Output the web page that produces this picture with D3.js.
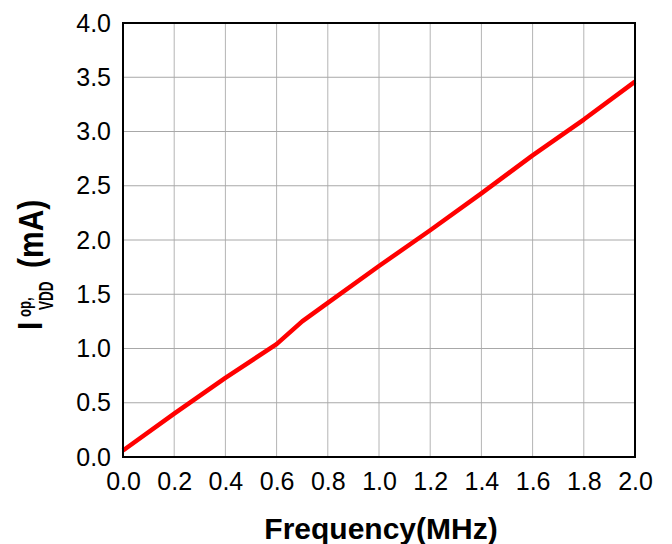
<!DOCTYPE html>
<html>
<head>
<meta charset="utf-8">
<script src="https://cdn.jsdelivr.net/npm/d3@7"></script>
<style>
  body { margin: 0; background: #fff; }
  text { font-family: "Liberation Sans", Arial, sans-serif; }
</style>
</head>
<body>
<div id="chart"></div>
<script>
var width = 672, height = 544;
var margin = {left: 123, right: 37, top: 23, bottom: 87};

// data
let freq = [0.0, 0.2, 0.4, 0.6, 0.7, 0.8, 1.0, 1.2, 1.4, 1.6, 1.8, 2.0];
let current = [0.06, 0.40, 0.73, 1.04, 1.25, 1.42, 1.76, 2.09, 2.43, 2.78, 3.11, 3.46];
let xTicks = [0.0, 0.2, 0.4, 0.6, 0.8, 1.0, 1.2, 1.4, 1.6, 1.8, 2.0];
let yTicks = [0.0, 0.5, 1.0, 1.5, 2.0, 2.5, 3.0, 3.5, 4.0];

let svg = d3.select('#chart')
  .append('svg')
  .attr('width', width)
  .attr('height', height);

let xScale = d3.scaleLinear()
  .domain([0, 2])
  .range([margin.left, width - margin.right]);

let yScale = d3.scaleLinear()
  .domain([0, 4])
  .range([height - margin.bottom, margin.top]);

// grid
svg.append('g')
  .selectAll('line')
  .data(xTicks)
  .enter()
  .append('line')
  .attr('x1', d => xScale(d)).attr('x2', d => xScale(d))
  .attr('y1', margin.top).attr('y2', height - margin.bottom)
  .attr('stroke', '#b4b4b4').attr('stroke-width', 1);

svg.append('g')
  .selectAll('line')
  .data(yTicks)
  .enter()
  .append('line')
  .attr('y1', d => yScale(d)).attr('y2', d => yScale(d))
  .attr('x1', margin.left).attr('x2', width - margin.right)
  .attr('stroke', '#a8a8a8').attr('stroke-width', 1);

// axes (labels only)
let xAxis = d3.axisBottom(xScale).tickValues(xTicks).tickSize(0).tickPadding(15).tickFormat(d3.format('.1f'));
let yAxis = d3.axisLeft(yScale).tickValues(yTicks).tickSize(0).tickPadding(12).tickFormat(d3.format('.1f'));

svg.append('g')
  .attr('transform', `translate(0, ${height - margin.bottom})`)
  .call(xAxis)
  .call(g => g.select('.domain').remove())
  .selectAll('text')
  .attr('font-size', 25).attr('fill', '#000')
  .style('font-family', '"Liberation Sans", Arial, sans-serif');

svg.append('g')
  .attr('transform', `translate(${margin.left}, 0)`)
  .call(yAxis)
  .call(g => g.select('.domain').remove())
  .selectAll('text')
  .attr('font-size', 25).attr('fill', '#000')
  .style('font-family', '"Liberation Sans", Arial, sans-serif');

// data line
let line = d3.line()
  .x((d, i) => xScale(freq[i]))
  .y(d => yScale(d));

svg.append('path')
  .datum(current)
  .attr('d', line)
  .attr('fill', 'none')
  .attr('stroke', '#ff0000')
  .attr('stroke-width', 4.5)
  .attr('stroke-linejoin', 'round');

// frame
svg.append('rect')
  .attr('x', margin.left).attr('y', margin.top)
  .attr('width', width - margin.left - margin.right)
  .attr('height', height - margin.top - margin.bottom)
  .attr('fill', 'none')
  .attr('stroke', '#000')
  .attr('stroke-width', 2);

// titles
svg.append('text')
  .attr('x', (margin.left + width - margin.right) / 2 + 2)
  .attr('y', 539)
  .attr('text-anchor', 'middle')
  .attr('font-size', 30)
  .attr('font-weight', 'bold')
  .text('Frequency(MHz)');

// y title, rotated; local x runs up the page, local y runs right
let yt = svg.append('g')
  .attr('transform', 'translate(42, 330) rotate(-90)')
  .attr('font-weight', 'bold');

yt.append('text')
  .attr('transform', 'scale(1, 1.15)')
  .attr('font-size', 30)
  .text('I');
yt.append('text')
  .attr('transform', 'translate(13, -11) scale(1, 1.45)')
  .attr('font-size', 13)
  .text('op,');
yt.append('text')
  .attr('transform', 'translate(20, 11) scale(1, 1.5)')
  .attr('font-size', 13.5)
  .text('VDD');
yt.append('text')
  .attr('transform', 'translate(62, 1) scale(1, 1.15)')
  .attr('font-size', 30)
  .text('(mA)');
</script>
</body>
</html>
